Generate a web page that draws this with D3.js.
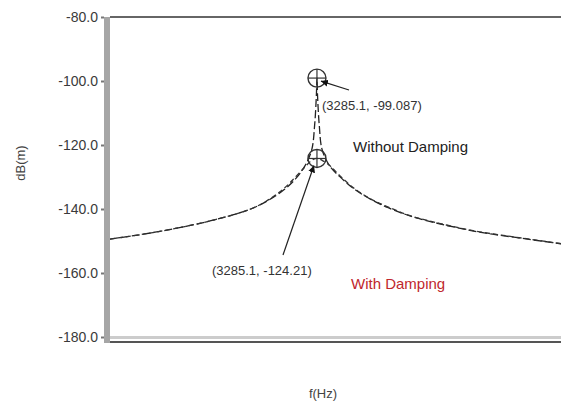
<!DOCTYPE html>
<html>
<head>
<meta charset="utf-8">
<script src="https://cdn.jsdelivr.net/npm/d3@7"></script>
<style>
  body { margin: 0; background: #fff; }
  svg { display: block; font-family: "Liberation Sans", Arial, sans-serif; }
</style>
</head>
<body>
<svg width="561" height="405"></svg>
<script>
// frequency (Hz) and magnitude (dB re m)
var freqNoDamp = [1500, 1800, 2100, 2400, 2700, 2850, 3000, 3100, 3180, 3240, 3265, 3280, 3285.1, 3290, 3305, 3330, 3400, 3480, 3600, 3750, 3900, 4100, 4400, 4700, 5000, 5400];
var dbNoDamp   = [-149.4, -147.8, -145.8, -143.4, -140.2, -137.6, -134.0, -130.6, -126.6, -121.5, -113.8, -104.5, -99.087, -104.5, -113.8, -121.5, -126.8, -129.8, -133.6, -137.0, -139.6, -142.3, -145.1, -147.3, -148.9, -150.9];
var freqDamp   = [1500, 1800, 2100, 2400, 2700, 2850, 3000, 3100, 3180, 3240, 3285.1, 3330, 3400, 3480, 3600, 3750, 3900, 4100, 4400, 4700, 5000, 5400];
var dbDamp     = [-149.4, -147.8, -145.8, -143.4, -140.2, -137.5, -133.6, -130.0, -126.9, -124.8, -124.21, -124.8, -126.6, -129.5, -133.4, -136.9, -139.4, -142.2, -145.0, -147.2, -148.8, -150.9];
var yTicks = [-80, -100, -120, -140, -160, -180];
var peakFreq = 3285.1;
var peakNoDamp = -99.087;
var peakDamp = -124.21;

var svg = d3.select("svg");
var plotLeft = 110, plotRight = 561, plotTop = 17, plotBottom = 337;

var x = d3.scaleLinear().domain([1500, 5390]).range([plotLeft, plotRight]);
var y = d3.scaleLinear().domain([-180, -80]).range([plotBottom, plotTop]);

function pairs(f, v) {
    return f.map(function(d, i) { return [d, v[i]]; });
}

var defs = svg.append("defs");
defs.append("clipPath")
    .attr("id", "plot")
    .append("rect")
    .attr("x", plotLeft).attr("y", plotTop)
    .attr("width", plotRight - plotLeft).attr("height", plotBottom - plotTop);

defs.append("marker")
    .attr("id", "arrow")
    .attr("viewBox", "0 0 10 10")
    .attr("refX", 10).attr("refY", 5)
    .attr("markerWidth", 7).attr("markerHeight", 7)
    .attr("markerUnits", "userSpaceOnUse")
    .attr("orient", "auto")
    .append("path").attr("d", "M0,0 L10,5 L0,10 z").attr("fill", "#111");

// frame
svg.append("line")
   .attr("x1", plotLeft).attr("y1", plotTop).attr("x2", plotRight).attr("y2", plotTop)
   .attr("stroke", "#666").attr("stroke-width", 2);
svg.append("line")
   .attr("x1", plotLeft).attr("y1", plotBottom + 0.5).attr("x2", plotRight).attr("y2", plotBottom + 0.5)
   .attr("stroke", "#ccc").attr("stroke-width", 3);
svg.append("line")
   .attr("x1", plotLeft).attr("y1", plotBottom + 5).attr("x2", plotRight).attr("y2", plotBottom + 5)
   .attr("stroke", "#555").attr("stroke-width", 2);

// y axis
var yAxis = d3.axisLeft(y)
    .tickValues(yTicks)
    .tickSize(3)
    .tickPadding(3)
    .tickFormat(function(d) { return d.toFixed(1); });
var ya = svg.append("g")
   .attr("transform", "translate(" + (plotLeft - 6) + ",0)")
   .call(yAxis);
ya.select(".domain").remove();
ya.selectAll(".tick line").attr("stroke", "#777").attr("stroke-width", 2);
ya.selectAll(".tick text")
  .attr("fill", "#3a3a3a")
  .style("font-size", "14px")
  .style("font-family", "Liberation Sans, Arial, sans-serif");

svg.append("rect")
   .attr("x", plotLeft - 6).attr("y", plotTop).attr("width", 6).attr("height", plotBottom - plotTop + 6)
   .attr("fill", "#a6a6a6");

// curves
var line = d3.line()
    .x(function(d) { return x(d[0]); })
    .y(function(d) { return y(d[1]); })
    .curve(d3.curveCatmullRom.alpha(0.5));

var curves = svg.append("g").attr("clip-path", "url(#plot)");
curves.append("path")
   .attr("d", line(pairs(freqNoDamp, dbNoDamp)))
   .attr("fill", "none")
   .attr("stroke", "#222")
   .attr("stroke-width", 1.3)
   .attr("stroke-dasharray", "8,3");
curves.append("path")
   .attr("d", line(pairs(freqDamp, dbDamp)))
   .attr("fill", "none")
   .attr("stroke", "#333")
   .attr("stroke-width", 1.3)
   .attr("stroke-dasharray", "5,3");

// peak markers
function crossCircle(f, v) {
    var cx = x(f), cy = y(v), r = 9;
    var g = svg.append("g");
    g.append("circle").attr("cx", cx).attr("cy", cy).attr("r", r)
     .attr("fill", "none").attr("stroke", "#333").attr("stroke-width", 1.4);
    g.append("line").attr("x1", cx - r).attr("y1", cy).attr("x2", cx + r).attr("y2", cy)
     .attr("stroke", "#333").attr("stroke-width", 1.2);
    g.append("line").attr("x1", cx).attr("y1", cy - r).attr("x2", cx).attr("y2", cy + r)
     .attr("stroke", "#333").attr("stroke-width", 1.2);
}
crossCircle(peakFreq, peakNoDamp);
crossCircle(peakFreq, peakDamp);

// annotations
svg.append("line")
   .attr("x1", 349).attr("y1", 90)
   .attr("x2", x(peakFreq) + 4).attr("y2", y(peakNoDamp) + 3)
   .attr("stroke", "#222").attr("stroke-width", 1.2)
   .attr("marker-end", "url(#arrow)");
svg.append("line")
   .attr("x1", 283).attr("y1", 255)
   .attr("x2", x(peakFreq) - 3).attr("y2", y(peakDamp) + 7)
   .attr("stroke", "#222").attr("stroke-width", 1.2)
   .attr("marker-end", "url(#arrow)");

svg.append("text")
   .attr("x", 322).attr("y", 110)
   .attr("fill", "#333").style("font-size", "13px")
   .text("(" + peakFreq + ", " + peakNoDamp + ")");
svg.append("text")
   .attr("x", 212).attr("y", 275)
   .attr("fill", "#333").style("font-size", "13px")
   .text("(" + peakFreq + ", " + peakDamp + ")");
svg.append("text")
   .attr("x", 353).attr("y", 152)
   .attr("fill", "#222").style("font-size", "15px")
   .text("Without Damping");
svg.append("text")
   .attr("x", 351).attr("y", 289)
   .attr("fill", "#c0272d").style("font-size", "15px")
   .text("With Damping");

// axis titles
svg.append("text")
   .attr("transform", "translate(25,163) rotate(-90)")
   .attr("text-anchor", "middle")
   .attr("fill", "#444").style("font-size", "13px")
   .text("dB(m)");
svg.append("text")
   .attr("x", 323).attr("y", 398)
   .attr("text-anchor", "middle")
   .attr("fill", "#444").style("font-size", "13px")
   .text("f(Hz)");
</script>
</body>
</html>
